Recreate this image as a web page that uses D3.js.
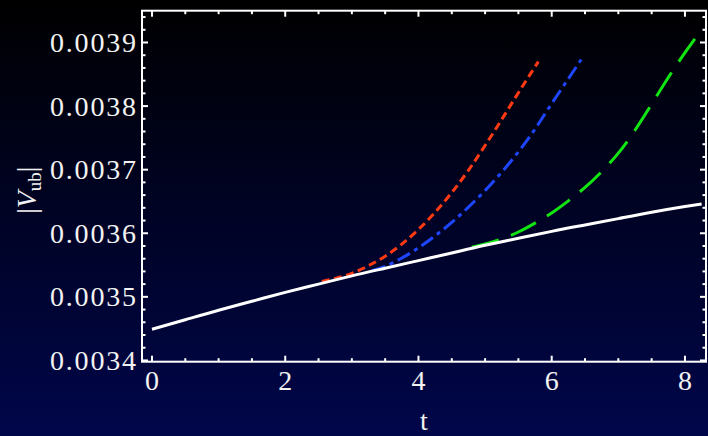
<!DOCTYPE html>
<html>
<head>
<meta charset="utf-8">
<script src="https://cdn.jsdelivr.net/npm/d3@7"></script>
<style>
  html, body { margin: 0; padding: 0; background: #000; }
  svg { display: block; }
  text { font-family: "Liberation Serif", "Times New Roman", serif; fill: #f2f2f2; }
</style>
</head>
<body>
<div class="chart"></div>
<script>
  'use strict';

  // Values (t, |Vub|)
  var whiteT = [0, 0.5, 1, 1.5, 2, 2.5, 3, 3.5, 4, 4.5, 5, 5.5, 6, 6.5, 7, 7.5, 8, 8.25];
  var whiteV = [0.003449, 0.003464, 0.003479, 0.003493, 0.003507, 0.003520, 0.003533, 0.003545,
                0.003557, 0.003569, 0.003581, 0.003592, 0.003603, 0.003613, 0.003623, 0.003633,
                0.003642, 0.003646];

  var redT = [2.55, 2.75, 3, 3.25, 3.5, 3.75, 4, 4.25, 4.5, 4.75, 5, 5.25, 5.5, 5.8];
  var redV = [0.003524, 0.003529, 0.003537, 0.003549, 0.003564, 0.003583, 0.003606, 0.003633,
              0.003664, 0.003699, 0.003738, 0.003779, 0.003821, 0.003870];

  var blueT = [3.3, 3.5, 3.75, 4, 4.25, 4.5, 4.75, 5, 5.25, 5.5, 5.75, 6, 6.25, 6.46];
  var blueV = [0.003541, 0.003548, 0.003561, 0.003577, 0.003596, 0.003617, 0.003641, 0.003667,
               0.003696, 0.003728, 0.003764, 0.003804, 0.003843, 0.003876];

  var greenT = [4.8, 5, 5.25, 5.5, 5.75, 6, 6.25, 6.5, 6.75, 7, 7.25, 7.5, 7.75, 8, 8.22];
  var greenV = [0.003578, 0.003583, 0.003591, 0.003602, 0.003616, 0.003632, 0.003651, 0.003672,
                0.003697, 0.003726, 0.003762, 0.003803, 0.003845, 0.003884, 0.003916];

  var xTicks = [0, 2, 4, 6, 8];
  var yTicks = [0.0034, 0.0035, 0.0036, 0.0037, 0.0038, 0.0039];

  var width = 708, height = 436;
  var margin = {top: 10.7, right: 2, bottom: 74.3, left: 142};

  var svg = d3.select('.chart').append('svg')
    .attr('width', width)
    .attr('height', height);

  // background: black at the top fading to navy at the bottom
  var grad = svg.append('defs').append('linearGradient')
    .attr('id', 'bg').attr('x1', 0).attr('y1', 0).attr('x2', 0).attr('y2', 1);
  grad.append('stop').attr('offset', '0%').attr('stop-color', '#000000');
  grad.append('stop').attr('offset', '100%').attr('stop-color', '#00064a');
  svg.append('rect').attr('width', width).attr('height', height).attr('fill', 'url(#bg)');

  var x = d3.scaleLinear().domain([-0.15, 8.316]).range([margin.left, width - margin.right]);
  var y = d3.scaleLinear().domain([0.003398, 0.00395]).range([height - margin.bottom, margin.top]);

  var line = d3.line()
    .x(function(d) { return x(d[0]); })
    .y(function(d) { return y(d[1]); })
    .curve(d3.curveNatural);

  function pairs(ts, vs) { return ts.map(function(t, i) { return [t, vs[i]]; }); }

  var plot = svg.append('g');
  plot.append('clipPath').attr('id', 'clip').append('rect')
    .attr('x', margin.left).attr('y', margin.top)
    .attr('width', width - margin.left - margin.right)
    .attr('height', height - margin.top - margin.bottom);

  var series = [
    {data: pairs(greenT, greenV), color: '#12e612', dash: '28,13'},
    {data: pairs(blueT, blueV),   color: '#1e46ff', dash: '14,5,4,5'},
    {data: pairs(redT, redV),     color: '#ff3a12', dash: '8,4.5'},
    {data: pairs(whiteT, whiteV), color: '#ffffff', dash: null}
  ];

  plot.selectAll('path.curve').data(series).enter().append('path')
    .attr('class', 'curve')
    .attr('clip-path', 'url(#clip)')
    .attr('d', function(d) { return line(d.data); })
    .attr('fill', 'none')
    .attr('stroke', function(d) { return d.color; })
    .attr('stroke-width', 3)
    .attr('stroke-dasharray', function(d) { return d.dash; });

  // frame with inward ticks on all four sides
  var x0 = margin.left, x1 = width - margin.right,
      y0 = margin.top, y1 = height - margin.bottom;
  var frame = svg.append('g').attr('stroke', '#fff');

  var xMinor = d3.range(0, 8.01, 0.5);
  var yMinor = d3.range(0.0034, 0.003941, 0.00002);

  function isMajor(list, v) {
    return list.some(function(m) { return Math.abs(m - v) < 1e-9; });
  }

  xMinor.forEach(function(t) {
    var len = isMajor(xTicks, t) ? 6 : 3.5;
    frame.append('line').attr('x1', x(t)).attr('x2', x(t)).attr('y1', y1).attr('y2', y1 - len).attr('stroke-width', 2);
    frame.append('line').attr('x1', x(t)).attr('x2', x(t)).attr('y1', y0).attr('y2', y0 + len).attr('stroke-width', 2);
  });
  yMinor.forEach(function(v) {
    var len = isMajor(yTicks, v) ? 6 : 3.5;
    frame.append('line').attr('y1', y(v)).attr('y2', y(v)).attr('x1', x0).attr('x2', x0 + len).attr('stroke-width', 2);
    frame.append('line').attr('y1', y(v)).attr('y2', y(v)).attr('x1', x1).attr('x2', x1 - len).attr('stroke-width', 2);
  });

  frame.append('rect')
    .attr('x', x0).attr('y', y0)
    .attr('width', x1 - x0).attr('height', y1 - y0)
    .attr('fill', 'none').attr('stroke-width', 2);

  // tick labels; a bit of letter spacing to match the wider reference labels
  var fs = 28, ls = 1.8;
  svg.selectAll('text.xt').data(xTicks).enter().append('text')
    .attr('class', 'xt')
    .attr('x', function(d) { return x(d); })
    .attr('y', y1 + 28)
    .attr('text-anchor', 'middle')
    .attr('font-size', fs)
    .text(function(d) { return d; });

  svg.selectAll('text.yt').data(yTicks).enter().append('text')
    .attr('class', 'yt')
    .attr('x', x0 - 6 + ls)
    .attr('y', function(d) { return y(d) + 9.5; })
    .attr('text-anchor', 'end')
    .attr('font-size', fs)
    .attr('letter-spacing', ls)
    .text(function(d) { return d3.format('.4f')(d); });

  // axis titles
  svg.append('text')
    .attr('x', (x0 + x1) / 2)
    .attr('y', 430)
    .attr('text-anchor', 'middle')
    .attr('font-size', fs)
    .text('t');

  var yl = svg.append('text')
    .attr('transform', 'translate(36,' + ((y0 + y1) / 2 + 4) + ') rotate(-90)')
    .attr('text-anchor', 'middle')
    .attr('font-size', fs);
  yl.append('tspan').text('|');
  yl.append('tspan').attr('font-style', 'italic').text('V');
  yl.append('tspan').attr('font-size', 19).attr('dy', 5).text('ub');
  yl.append('tspan').attr('dy', -5).text('|');
</script>
</body>
</html>
